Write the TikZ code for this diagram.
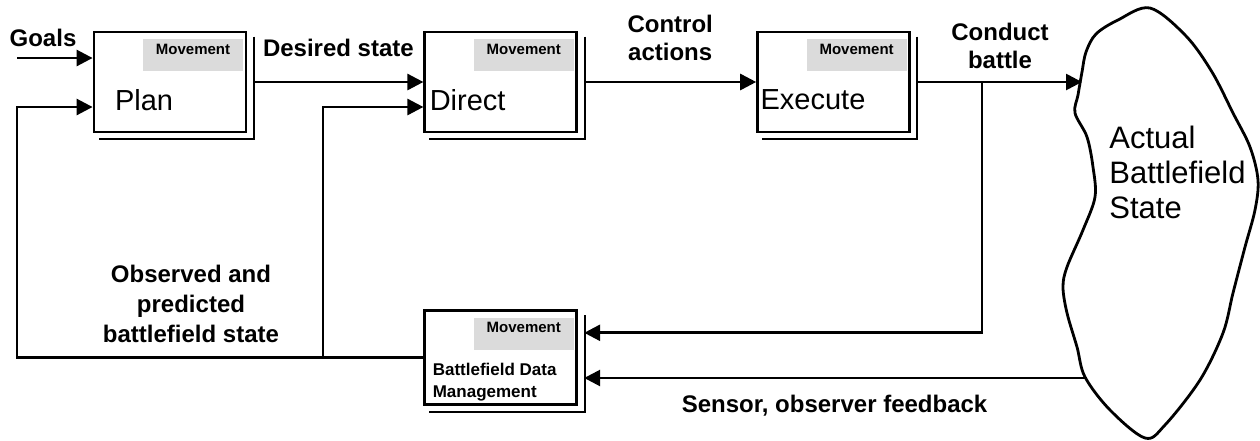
\documentclass[tikz,border=0pt]{standalone}
\usepackage{fontspec}
\setmainfont{Liberation Sans}
\usetikzlibrary{positioning,arrows.meta}
\tikzset{
  module/.style={draw, line width=1.4pt, fill=white, minimum width=76pt, minimum height=50pt, inner sep=0pt},
  tag/.style={fill=black!14, minimum width=50pt, inner sep=1.5pt, text height=6pt, text depth=7pt,
    font=\bfseries\fontsize{7.5}{8}\selectfont},
  boxname/.style={anchor=west, inner sep=0pt, font=\fontsize{14.5}{16}\selectfont},
  flowlabel/.style={align=center, inner sep=0pt, font=\bfseries\fontsize{12}{14}\selectfont},
  flow/.style={line width=1.35pt, -{Triangle[length=8pt,width=8pt]}},
}

\begin{document}
\begin{tikzpicture}[x=0.5pt, y=-0.5pt]
\useasboundingbox (0,0) rectangle (1260,440);

% Modules
\node[module] (plan) at (170,82) {};
\node[module, right=88pt of plan] (direct) {};
\node[module, right=89pt of direct] (execute) {};
\node[module, below=88pt of direct, minimum height=47pt] (bdm) {};

% shadow edges
\foreach \n in {plan,direct,execute,bdm}
  \draw[line width=1pt] ([xshift=3.2pt,yshift=-3pt]\n.north east) -- ([xshift=3.2pt,yshift=-2.7pt]\n.south east)
    -- ([xshift=3pt,yshift=-2.7pt]\n.south west);

% Movement tags
\foreach \n in {plan,direct,execute,bdm}
  \node[tag, anchor=north east] (\n tag) at ([xshift=-2pt,yshift=-4pt]\n.north east) {Movement};

% Module names
\node[boxname] (plantxt) at ([xshift=11pt,yshift=-9pt]plan.west) {Plan};
\node[boxname] (directtxt) at ([xshift=3pt,yshift=-9pt]direct.west) {Direct};
\node[boxname] (executetxt) at ([xshift=2pt,yshift=-9pt]execute.west) {Execute};
\node[anchor=west, align=left, inner sep=0pt, font=\bfseries\fontsize{8.5}{11}\selectfont] (bdmtxt)
  at ([xshift=4.5pt,yshift=-12pt]bdm.west) {Battlefield Data\\Management};

% Battlefield
\draw[line width=1.4pt] plot[smooth cycle, tension=0.55] coordinates {
  (1150,8) (1118,20) (1096,34) (1086,52) (1082,72) (1078,95) (1075,113) (1087,137) (1093,167)
  (1095,197) (1083,230) (1067,267) (1063,287) (1067,313) (1077,347) (1085,377) (1110,410)
  (1145,438) (1165,425) (1200,380) (1223,333) (1233,293) (1245,247) (1255,210) (1258,180)
  (1250,147) (1233,113) (1212,72) (1186,36)};
\coordinate (blobin) at (1082,82);
\coordinate (blobout) at (1085,378);
\node[anchor=west, align=left, inner sep=0pt, font=\fontsize{15.5}{17.5}\selectfont] (state)
  at (1109,172) {Actual\\Battlefield\\State};

% Forward chain
\coordinate (goalsin) at (17,58);
\node[flowlabel] (goals) at (43,38) {Goals};
\draw[flow] (goalsin) -- (goalsin -| plan.west);
\draw[flow] ([xshift=3pt]plan.east) -- (direct.west)
  node[flowlabel, pos=0.5, above=12pt] (desired) {Desired state};
\draw[flow] ([xshift=3pt]direct.east) -- (execute.west)
  node[flowlabel, pos=0.5, above=10pt] (control) {Control\\actions};
\draw[flow] ([xshift=3pt]execute.east) -- (blobin);
\coordinate (split) at (982,82);
\node[flowlabel] (conduct) at (1000,46) {Conduct\\battle};

% Feedback
\draw[flow] (split) |- ([xshift=3pt,yshift=12.5pt]bdm.east);
\draw[flow] (blobout) -- ([xshift=3pt]bdm.east |- blobout)
  node[flowlabel, pos=0.5, below=8pt] (sensor) {Sensor, observer feedback};
\coordinate (loopL) at (17,107);
\coordinate (loopM) at (323,107);
\draw[flow] (bdm.west) -| (loopL) -- (loopL -| plan.west);
\draw[flow] (loopM |- bdm.west) -- (loopM) -- (loopM -| direct.west);
\node[flowlabel, font=\bfseries\fontsize{12}{15}\selectfont] (observed) at (191,304)
  {Observed and\\predicted\\battlefield state};

\end{tikzpicture}
\end{document}
